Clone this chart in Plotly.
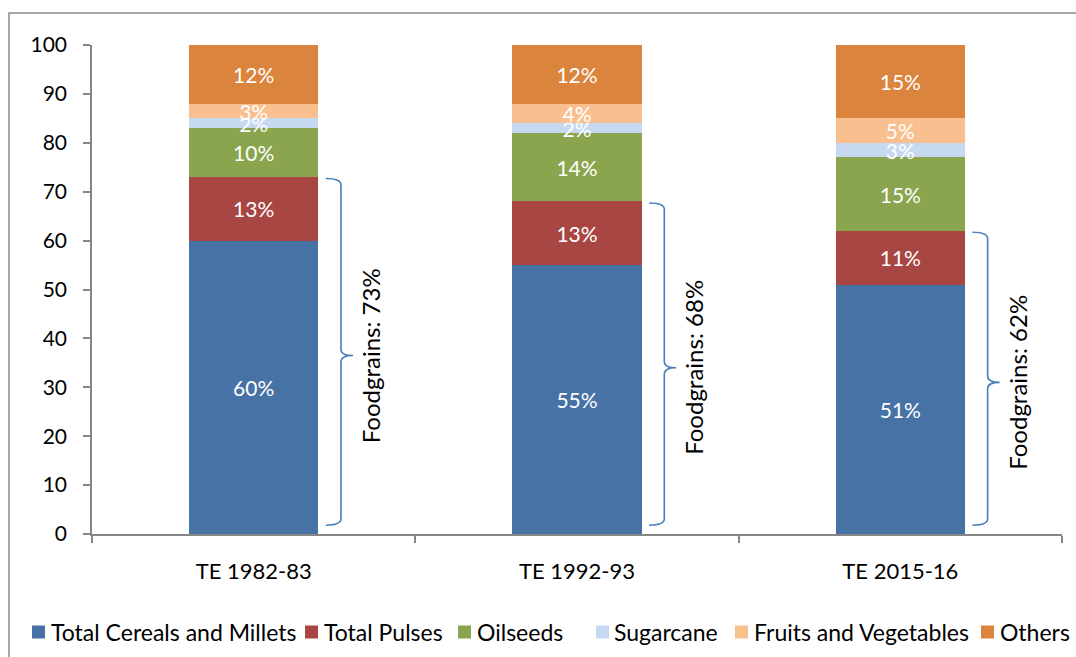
import plotly.graph_objects as go

# Crop shares of gross cropped area (%), triennium ending
periods = ["TE 1982-83", "TE 1992-93", "TE 2015-16"]
cereals = [60, 55, 51]
pulses = [13, 13, 11]
oilseeds = [10, 14, 15]
sugarcane = [2, 2, 3]
fruits_veg = [3, 4, 5]
others = [12, 12, 15]

series = [
    ("Total Cereals and Millets", cereals, "#4672A6"),
    ("Total Pulses", pulses, "#A84643"),
    ("Oilseeds", oilseeds, "#8AA54E"),
    ("Sugarcane", sugarcane, "#C6D9F0"),
    ("Fruits and Vegetables", fruits_veg, "#F9BF8F"),
    ("Others", others, "#DB843D"),
]

FONT = "Lato"
BAR_W = 0.4
pos = list(range(len(periods)))

W, H = 1076, 657
M_L, M_R, M_T, M_B = 92, 14, 45, 123
PW, PH = W - M_L - M_R, H - M_T - M_B


def px_x(px):
    """Pixel column -> paper x."""
    return (px - M_L) / PW


def px_y(py):
    """Pixel row (from top) -> paper y."""
    return (H - M_B - py) / PH


fig = go.Figure()
for name, vals, color in series:
    fig.add_trace(go.Bar(
        x=pos, y=vals, name=name, width=BAR_W,
        marker=dict(color=color, line=dict(width=0)),
        text=[f"{v}%" for v in vals],
        textposition="inside", insidetextanchor="middle",
        textfont=dict(color="white", size=21, family=FONT),
        hoverinfo="skip", showlegend=False,
    ))

# Curly braces grouping cereals + pulses as foodgrains
brace_color = "#4A7EBB"
shapes = []
annotations = []
for i, (c, p) in enumerate(zip(cereals, pulses)):
    total = c + p
    yt = total - 0.3
    yb = 1.8
    ym = total / 2
    xe = i + 0.223
    xv = i + 0.27
    xt = i + 0.307
    r = 1.3
    path = (
        f"M {xe},{yt} Q {xv},{yt} {xv},{yt - r} "
        f"L {xv},{ym + r} Q {xv},{ym} {xt},{ym} "
        f"Q {xv},{ym} {xv},{ym - r} "
        f"L {xv},{yb + r} Q {xv},{yb} {xe},{yb}"
    )
    shapes.append(dict(type="path", path=path, xref="x", yref="y",
                       line=dict(color=brace_color, width=1.6)))
    annotations.append(dict(
        x=i + 0.362, y=ym, xref="x", yref="y",
        text=f"Foodgrains: {total}%", textangle=-90, showarrow=False,
        font=dict(size=24, color="black", family=FONT),
        xanchor="center", yanchor="middle",
    ))

# Legend row along the bottom: colour key squares with labels
legend_square_px = [32, 305, 458, 596, 735, 981]
legend_text_px = [51, 324, 477, 614, 754, 1000]
legend_row_y = 632
for (name, _, color), sx, tx in zip(series, legend_square_px, legend_text_px):
    shapes.append(dict(type="rect", xref="paper", yref="paper",
                       x0=px_x(sx), x1=px_x(sx + 13),
                       y0=px_y(legend_row_y + 6.5), y1=px_y(legend_row_y - 6.5),
                       fillcolor=color, line=dict(width=0)))
    annotations.append(dict(
        x=px_x(tx - 2), y=px_y(legend_row_y), xref="paper", yref="paper",
        text=name, showarrow=False, xanchor="left", yanchor="middle",
        font=dict(size=23, color="black", family=FONT),
    ))

# Chart area border
shapes.append(dict(type="rect", xref="paper", yref="paper",
                   x0=px_x(9), x1=1.2, y0=-0.4, y1=px_y(13),
                   line=dict(color="#8C8C8C", width=1.5), layer="below"))

fig.update_layout(
    width=W, height=H,
    margin=dict(l=M_L, r=M_R, t=M_T, b=M_B),
    barmode="stack",
    paper_bgcolor="white", plot_bgcolor="white",
    font=dict(family=FONT, size=21, color="black"),
    shapes=shapes, annotations=annotations,
    uniformtext=dict(minsize=21, mode="show"),
    showlegend=False,
    xaxis=dict(
        range=[-0.5, 2.5], tickvals=pos, ticktext=periods,
        ticks="", showline=True, linecolor="#868686", linewidth=1.5,
        showgrid=False, zeroline=False, ticklabelstandoff=17,
        minor=dict(tick0=-0.5, dtick=1, ticks="outside", ticklen=7,
                   tickcolor="#868686", tickwidth=1.5, showgrid=False),
        tickfont=dict(size=22),
    ),
    yaxis=dict(
        range=[0, 100], dtick=10, ticks="outside", ticklen=7,
        tickcolor="#868686", tickwidth=1.5, showline=True,
        linecolor="#868686", linewidth=1.5, showgrid=False, zeroline=False,
        ticklabelstandoff=12, tickfont=dict(size=21),
    ),
)

fig.write_html("out.html")
